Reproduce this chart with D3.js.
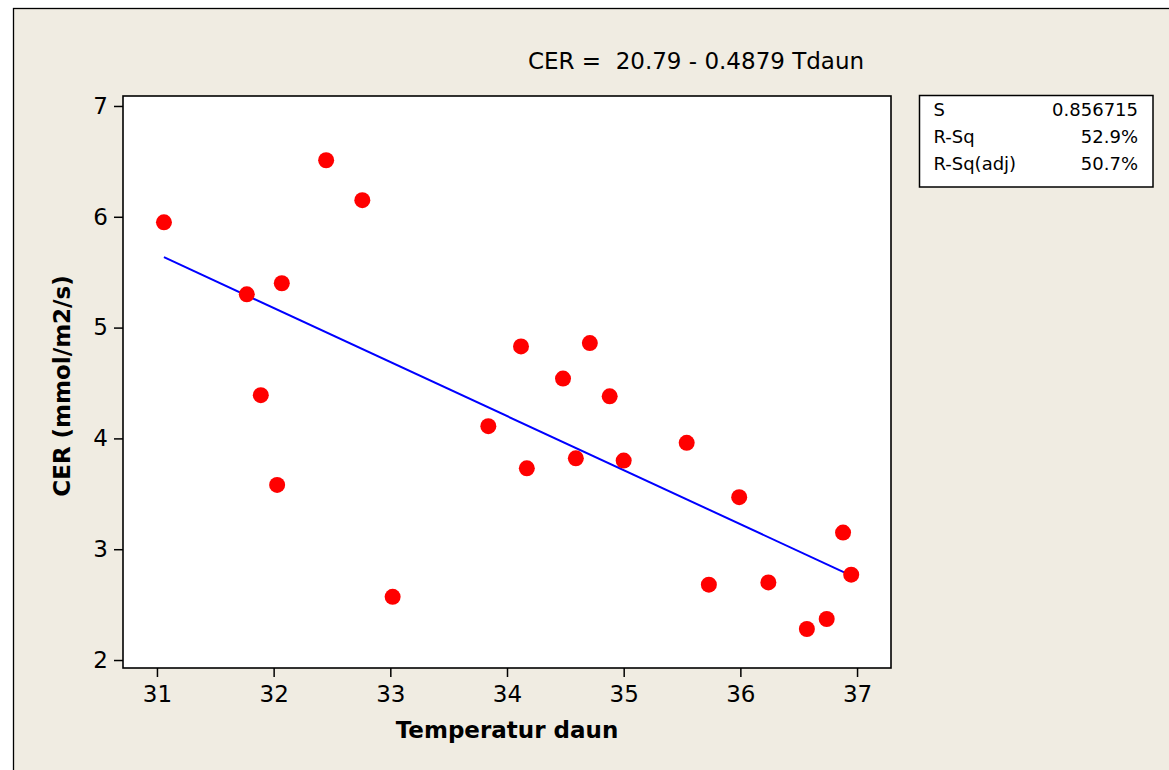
<!DOCTYPE html>
<html>
<head>
<meta charset="utf-8">
<script src="https://cdn.jsdelivr.net/npm/d3@7"></script>
<style>
  html, body { margin: 0; padding: 0; background: #fff; }
  svg { display: block; }
  text { font-family: "DejaVu Sans", sans-serif; fill: #000; }
  .axis .domain { display: none; }
  .axis line { stroke: #000; stroke-width: 1.5; }
  .axis text { font-size: 23px; }
</style>
</head>
<body>
<script>
// Temperatur daun (x) and CER (y)
const tdaun = [31.06, 31.77, 31.89, 32.03, 32.07, 32.45, 32.76, 33.02, 33.84, 34.12, 34.17, 34.48,
  34.59, 34.71, 34.88, 35.00, 35.54, 35.73, 35.99, 36.24, 36.57, 36.74, 36.88, 36.95];
const cer = [5.95, 5.30, 4.39, 3.58, 5.40, 6.51, 6.15, 2.57, 4.11, 4.83, 3.73, 4.54,
  3.82, 4.86, 4.38, 3.80, 3.96, 2.68, 3.47, 2.70, 2.28, 2.37, 3.15, 2.77];

const xTicks = [31, 32, 33, 34, 35, 36, 37];
const yTicks = [2, 3, 4, 5, 6, 7];

// fitted line coefficients
const intercept = 20.79;
const slope = -0.4879;

const statLabels = ['S', 'R-Sq', 'R-Sq(adj)'];
const statValues = ['0.856715', '52.9%', '50.7%'];

const width = 1169, height = 770;
const plot = { left: 123, top: 96, right: 891, bottom: 668 };

const svg = d3.select('body').append('svg')
  .attr('width', width)
  .attr('height', height);

// beige graph region with its frame
svg.append('rect')
  .attr('x', 13.5).attr('y', 8.5)
  .attr('width', width + 20).attr('height', height + 20)
  .attr('fill', '#f0ece2')
  .attr('stroke', '#000').attr('stroke-width', 1.3);

const x = d3.scaleLinear()
  .domain([30.709, 37.291])
  .range([plot.left, plot.right]);

const y = d3.scaleLinear()
  .domain([1.928, 7.09])
  .range([plot.bottom, plot.top]);

// data region
svg.append('rect')
  .attr('x', plot.left).attr('y', plot.top)
  .attr('width', plot.right - plot.left).attr('height', plot.bottom - plot.top)
  .attr('fill', '#fff')
  .attr('stroke', '#000').attr('stroke-width', 1.6);

svg.append('g')
  .attr('class', 'axis x-axis')
  .attr('transform', `translate(0, ${plot.bottom})`)
  .call(d3.axisBottom(x).tickValues(xTicks).tickSize(9).tickPadding(9).tickFormat(d3.format('d')));

svg.append('g')
  .attr('class', 'axis y-axis')
  .attr('transform', `translate(${plot.left}, 0)`)
  .call(d3.axisLeft(y).tickValues(yTicks).tickSize(9).tickPadding(6).tickFormat(d3.format('d')));

// regression line over the x range of the data
const xExt = d3.extent(tdaun);
const fit = xExt.map(t => [t, intercept + slope * t]);

svg.append('path')
  .datum(fit)
  .attr('fill', 'none')
  .attr('stroke', '#0000ff')
  .attr('stroke-width', 2)
  .attr('d', d3.line().x(d => x(d[0])).y(d => y(d[1])));

svg.append('g')
  .selectAll('circle')
  .data(tdaun.map((t, i) => ({ t, c: cer[i] })))
  .join('circle')
  .attr('cx', d => x(d.t))
  .attr('cy', d => y(d.c))
  .attr('r', 8)
  .attr('fill', '#ff0000');

// titles
svg.append('text')
  .attr('x', 696).attr('y', 69)
  .attr('text-anchor', 'middle')
  .style('font-size', '23px')
  .style('white-space', 'pre')
  .text(`CER =  ${intercept} - ${Math.abs(slope)} Tdaun`);

svg.append('text')
  .attr('x', (plot.left + plot.right) / 2).attr('y', 738)
  .attr('text-anchor', 'middle')
  .style('font-size', '23px')
  .style('font-weight', 'bold')
  .text('Temperatur daun');

svg.append('text')
  .attr('transform', `translate(69.5, ${(plot.top + plot.bottom) / 2 + 4}) rotate(-90)`)
  .attr('text-anchor', 'middle')
  .style('font-size', '23px')
  .style('font-weight', 'bold')
  .text('CER (mmol/m2/s)');

// summary box
const box = { x: 919.5, y: 95.5, w: 233.5, h: 91.5 };
const stats = svg.append('g');
stats.append('rect')
  .attr('x', box.x).attr('y', box.y)
  .attr('width', box.w).attr('height', box.h)
  .attr('fill', '#fff')
  .attr('stroke', '#000').attr('stroke-width', 1.5);

stats.selectAll('.stat-label')
  .data(statLabels)
  .join('text')
  .attr('class', 'stat-label')
  .attr('x', box.x + 14)
  .attr('y', (d, i) => 116 + i * 27)
  .style('font-size', '18px')
  .text(d => d);

stats.selectAll('.stat-value')
  .data(statValues)
  .join('text')
  .attr('class', 'stat-value')
  .attr('x', box.x + box.w - 15)
  .attr('y', (d, i) => 116 + i * 27)
  .attr('text-anchor', 'end')
  .style('font-size', '18px')
  .text(d => d);
</script>
</body>
</html>
